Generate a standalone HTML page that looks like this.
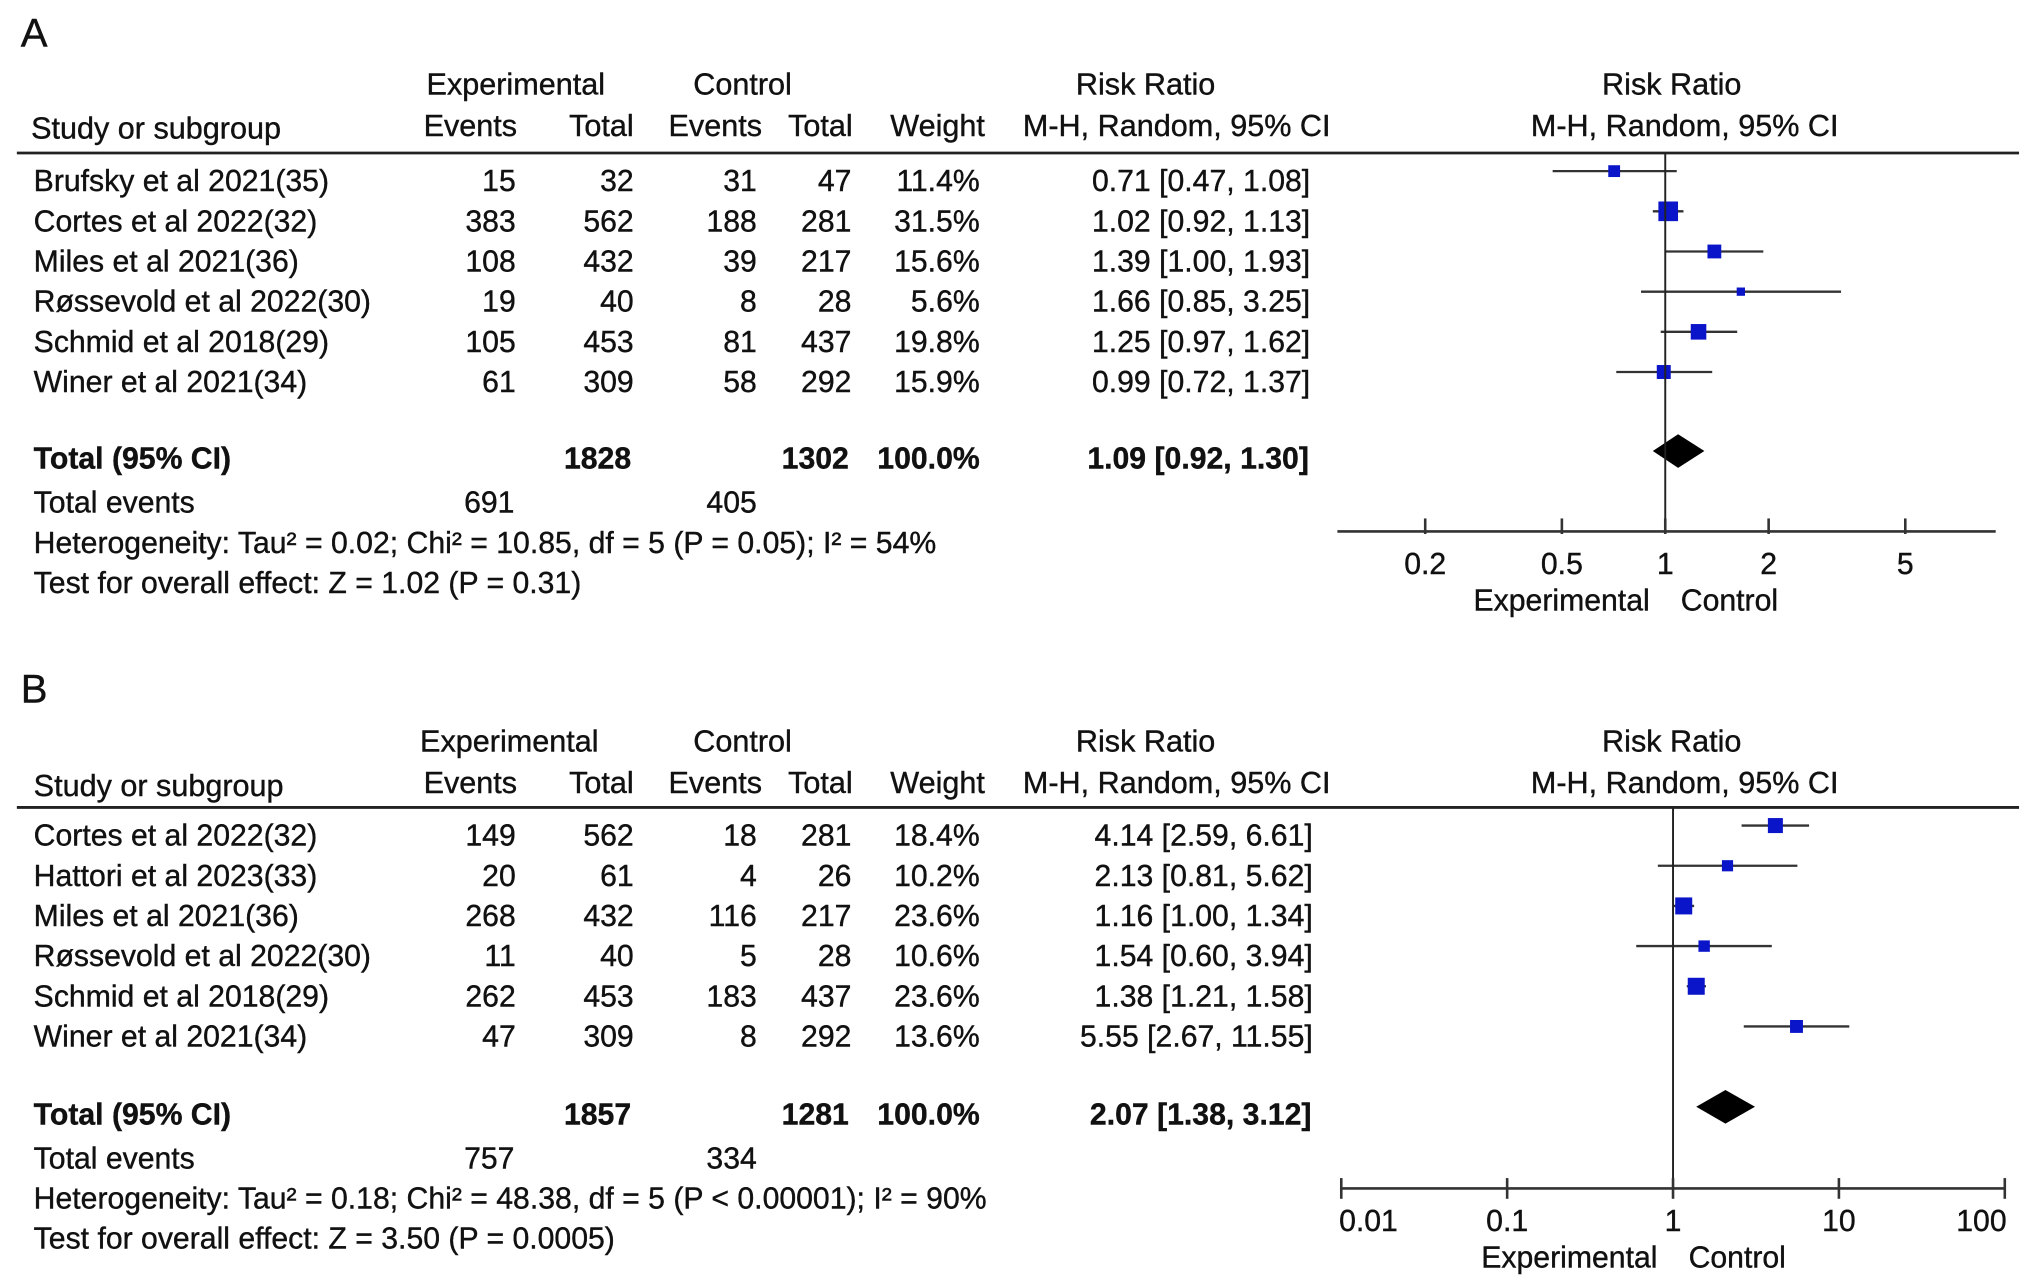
<!DOCTYPE html>
<html><head><meta charset="utf-8"><style>
html,body{margin:0;padding:0;background:#fff;}
svg{display:block;}
text{font-family:"Liberation Sans",Arial,sans-serif;fill:#111;stroke:#111;stroke-width:0.3;}
</style></head><body>
<svg id="chart" width="2032" height="1287" viewBox="0 0 1568 993" xmlns="http://www.w3.org/2000/svg"></svg>
<script>
// ---- Panel A data ----
const namesA = ["Brufsky et al 2021(35)","Cortes et al 2022(32)","Miles et al 2021(36)","Røssevold et al 2022(30)","Schmid et al 2018(29)","Winer et al 2021(34)"];
const expEventsA = [15,383,108,19,105,61];
const expTotalA = [32,562,432,40,453,309];
const ctrlEventsA = [31,188,39,8,81,58];
const ctrlTotalA = [47,281,217,28,437,292];
const weightA = [11.4,31.5,15.6,5.6,19.8,15.9];
const rrA = [0.71,1.02,1.39,1.66,1.25,0.99];
const loA = [0.47,0.92,1.00,0.85,0.97,0.72];
const hiA = [1.08,1.13,1.93,3.25,1.62,1.37];
const totalA = {expTotal:1828, ctrlTotal:1302, rr:1.09, lo:0.92, hi:1.30, expEvents:691, ctrlEvents:405};
const ticksA = [0.2,0.5,1,2,5];
const tickLabelsA = ["0.2","0.5","1","2","5"];
// ---- Panel B data ----
const namesB = ["Cortes et al 2022(32)","Hattori et al 2023(33)","Miles et al 2021(36)","Røssevold et al 2022(30)","Schmid et al 2018(29)","Winer et al 2021(34)"];
const expEventsB = [149,20,268,11,262,47];
const expTotalB = [562,61,432,40,453,309];
const ctrlEventsB = [18,4,116,5,183,8];
const ctrlTotalB = [281,26,217,28,437,292];
const weightB = [18.4,10.2,23.6,10.6,23.6,13.6];
const rrB = [4.14,2.13,1.16,1.54,1.38,5.55];
const loB = [2.59,0.81,1.00,0.60,1.21,2.67];
const hiB = [6.61,5.62,1.34,3.94,1.58,11.55];
const totalB = {expTotal:1857, ctrlTotal:1281, rr:2.07, lo:1.38, hi:3.12, expEvents:757, ctrlEvents:334};
const ticksB = [0.01,0.1,1,10,100];
const tickLabelsB = ["0.01","0.1","1","10","100"];

const svg = document.getElementById('chart');
const NS = "http://www.w3.org/2000/svg";
const FS = 23.3, HS = 23.6;
function mk(tag, attrs, txt){
  const e = document.createElementNS(NS, tag);
  for (const k in attrs) e.setAttribute(k, attrs[k]);
  if (txt !== undefined) e.textContent = txt;
  svg.appendChild(e);
  return e;
}
function T(x,y,s,anchor,size,weight,name){
  const e = mk('text',{x:x,y:y,'text-anchor':anchor||'start','font-size':size||FS,'font-weight':weight||'normal'},s);
  
  
  return e;
}
function fmt(v){return v.toFixed(2);}

function panel(o){
  const Y = o.y0;
  T(16, o.letterY, o.letter, 'start', 31, 'normal', 'panel-letter');
  T(o.expCx, Y+8, "Experimental", 'middle', HS, 'normal', 'experimental-header');
  T(573, Y+8, "Control", 'middle', HS, 'normal', 'control-header');
  T(884, Y+8, "Risk Ratio", 'middle', HS, 'normal', 'risk-ratio-header');
  T(1290, Y+8, "Risk Ratio", 'middle', HS, 'normal', 'plot-risk-ratio-header');
  const Y2 = Y+32;
  T(o.studyX, Y2+10, "Study or subgroup", 'start', HS, 'normal', 'study-column-header');
  T(399, Y2+8, "Events", 'end', HS, 'normal', 'exp-events-header');
  T(489, Y2+8, "Total", 'end', HS, 'normal', 'exp-total-header');
  T(588, Y2+8, "Events", 'end', HS, 'normal', 'ctrl-events-header');
  T(658, Y2+8, "Total", 'end', HS, 'normal', 'ctrl-total-header');
  T(760, Y2+8, "Weight", 'end', HS, 'normal', 'weight-header');
  T(908, Y2+8, "M-H, Random, 95% CI", 'middle', HS, 'normal', 'ci-header');
  T(1300, Y2+8, "M-H, Random, 95% CI", 'middle', HS, 'normal', 'plot-ci-header');
  const rule = mk('line',{x1:13,x2:1558,y1:o.ruleY,y2:o.ruleY,stroke:'#222','stroke-width':2.2});
  
  

  const sx = v => o.x1 + Math.log10(v)*o.perDec;
  for (let i=0;i<o.names.length;i++){
    const cy = o.row0 + i*31;
    const by = cy+7.5;
    T(26, by, o.names[i], 'start', FS, 'normal', 'study-name');
    T(398, by, String(o.ee[i]), 'end', FS, 'normal', 'exp-events');
    T(489, by, String(o.et[i]), 'end', FS, 'normal', 'exp-total');
    T(584, by, String(o.ce[i]), 'end', FS, 'normal', 'ctrl-events');
    T(657, by, String(o.ct[i]), 'end', FS, 'normal', 'ctrl-total');
    T(756, by, o.w[i].toFixed(1)+"%", 'end', FS, 'normal', 'weight-value');
    T(o.ciRight, by, fmt(o.rr[i])+" ["+fmt(o.lo[i])+", "+(o.hi[i]>=10?o.hi[i].toFixed(2):fmt(o.hi[i]))+"]", 'end', FS, 'normal', 'ci-value');
    const ly = cy-8;
    const ci = mk('line',{x1:sx(o.lo[i]),x2:sx(o.hi[i]),y1:ly,y2:ly,stroke:'#333','stroke-width':1.8});
    
    
    const s = Math.sqrt(o.w[i])*2.7;
    const sq = mk('rect',{x:sx(o.rr[i])-s/2,y:ly-s/2,width:s,height:s,fill:'#0a14c8'});
    
    
  }
  const ty = o.totY+7.5;
  T(26, ty, "Total (95% CI)", 'start', FS, 'bold', 'total-label');
  T(487, ty, String(o.tot.expTotal), 'end', FS, 'bold', 'total-exp');
  T(655, ty, String(o.tot.ctrlTotal), 'end', FS, 'bold', 'total-ctrl');
  T(756, ty, "100.0%", 'end', FS, 'bold', 'total-weight');
  T(o.ciRight-1, ty, fmt(o.tot.rr)+" ["+fmt(o.tot.lo)+", "+fmt(o.tot.hi)+"]", 'end', FS, 'bold', 'total-ci');
  const dy = o.totY-6, dh = 13;
  const dm = mk('polygon',{points:[sx(o.tot.lo)+','+dy, sx(o.tot.rr)+','+(dy-dh), sx(o.tot.hi)+','+dy, sx(o.tot.rr)+','+(dy+dh)].join(' '),fill:'#000'});
  
  
  const ey = o.totY+34+7.5;
  T(26, ey, "Total events", 'start', FS, 'normal', 'total-events-label');
  T(397, ey, String(o.tot.expEvents), 'end', FS, 'normal', 'total-exp-events');
  T(584, ey, String(o.tot.ctrlEvents), 'end', FS, 'normal', 'total-ctrl-events');
  T(26, o.totY+65+7.5, o.het, 'start', FS, 'normal', 'heterogeneity-text');
  T(26, o.totY+96+7.5, o.test, 'start', FS, 'normal', 'overall-effect-text');

  const nl = mk('line',{x1:sx(1),x2:sx(1),y1:o.ruleY,y2:o.axisY,stroke:'#222','stroke-width':1.5});
  
  
  const ax = mk('line',{x1:o.axL,x2:o.axR,y1:o.axisY,y2:o.axisY,stroke:'#333','stroke-width':2});
  
  
  for (let i=0;i<o.ticks.length;i++){
    const x = sx(o.ticks[i]);
    const tk = mk('line',{x1:x,x2:x,y1:o.axisY-o.tkUp,y2:o.axisY+o.tkDn,stroke:'#333','stroke-width':2});
    
    
    T(x+o.tlShift[i], o.axisY+33, o.tickLabels[i], 'middle', FS, 'normal', 'x-tick-label');
  }
  T(sx(1)-12, o.axisY+61, "Experimental", 'end', FS, 'normal', 'favours-experimental');
  T(sx(1)+12, o.axisY+61, "Control", 'start', FS, 'normal', 'favours-control');
}

panel({letter:"A", letterY:36, y0:65, expCx:398, studyX:24, ruleY:118, row0:140, totY:354,
  names:namesA, ee:expEventsA, et:expTotalA, ce:ctrlEventsA, ct:ctrlTotalA, w:weightA, rr:rrA, lo:loA, hi:hiA, tot:totalA,
  ciRight:1011, x1:1285, perDec:265, axisY:410, axL:1032, axR:1540, ticks:ticksA, tickLabels:tickLabelsA,
  tkUp:10, tkDn:2, tlShift:[0,0,0,0,0],
  het:"Heterogeneity: Tau² = 0.02; Chi² = 10.85, df = 5 (P = 0.05); I² = 54%",
  test:"Test for overall effect: Z = 1.02 (P = 0.31)"});
panel({letter:"B", letterY:542, y0:572, expCx:393, studyX:26, ruleY:623, row0:645, totY:860,
  names:namesB, ee:expEventsB, et:expTotalB, ce:ctrlEventsB, ct:ctrlTotalB, w:weightB, rr:rrB, lo:loB, hi:hiB, tot:totalB,
  ciRight:1013, x1:1291, perDec:128, axisY:917, axL:1034, axR:1546, ticks:ticksB, tickLabels:tickLabelsB,
  tkUp:8, tkDn:8, tlShift:[21,0,0,0,-18],
  het:"Heterogeneity: Tau² = 0.18; Chi² = 48.38, df = 5 (P < 0.00001); I² = 90%",
  test:"Test for overall effect: Z = 3.50 (P = 0.0005)"});
</script>
</body></html>
